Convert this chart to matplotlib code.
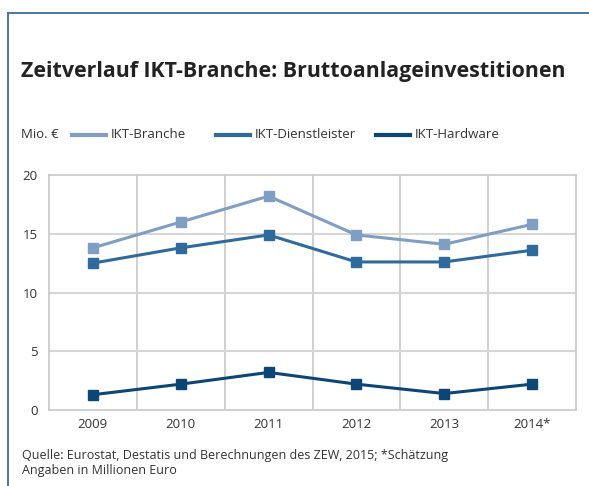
import matplotlib
matplotlib.use("Agg")
import matplotlib.pyplot as plt
from matplotlib.lines import Line2D

years = ["2009", "2010", "2011", "2012", "2013", "2014*"]
ikt_branche = [13.8, 16.0, 18.2, 14.9, 14.1, 15.8]
ikt_dienst = [12.5, 13.8, 14.9, 12.6, 12.6, 13.6]
ikt_hardware = [1.3, 2.2, 3.2, 2.2, 1.4, 2.2]
series_names = ["IKT-Branche", "IKT-Dienstleister", "IKT-Hardware"]
colors = ["#7f9ec4", "#2f6a9c", "#0c4677"]

W, H = 589, 486
plt.rcParams['font.family'] = ['Open Sans', 'DejaVu Sans']
fig = plt.figure(figsize=(W / 100, H / 100), dpi=100)

def fx(px):
    return px / W

def fy(py):
    return 1 - py / H

# frame lines
fig.add_artist(Line2D([fx(8), fx(8)], [fy(13), 0], color="#3d6e98", lw=1.3))
fig.add_artist(Line2D([fx(8), 1], [fy(13), fy(13)], color="#3d6e98", lw=1.3))

fig.text(fx(21), fy(71), "Zeitverlauf IKT-Branche: Bruttoanlageinvestitionen",
         fontsize=15.4, fontweight="bold", color="#222222", va="center", ha="left")

# legend
fig.text(fx(21), fy(135), "Mio. €", fontsize=9.5, color="#333333", va="center")
leg_x = [72, 216, 376]
for name, c, lx in zip(series_names, colors, leg_x):
    fig.add_artist(Line2D([fx(lx), fx(lx + 34)], [fy(135), fy(135)], color=c, lw=3))
    fig.text(fx(lx + 39), fy(135), name, fontsize=9.5, color="#333333", va="center")

ax = fig.add_axes([fx(49), fy(410), fx(576) - fx(49), fy(175) - fy(410)])
x = list(range(len(years)))
for vals, c in zip([ikt_branche, ikt_dienst, ikt_hardware], colors):
    ax.plot(x, vals, color=c, lw=2.2, marker="s", markersize=6.8, zorder=3)

ax.set_xlim(-0.5, len(years) - 0.5)
ax.set_ylim(0, 20)
ax.set_yticks([0, 5, 10, 15, 20])
ax.set_xticks(x)
ax.set_xticklabels(years)
for b in [i + 0.5 for i in range(len(years) - 1)]:
    ax.axvline(b, color="#c8c8c8", lw=1.2, zorder=1)
for yv in [5, 10, 15]:
    ax.axhline(yv, color="#d6d6d6", lw=1.5, zorder=1)
for s in ax.spines.values():
    s.set_color("#c8c8c8")
    s.set_linewidth(1.2)
ax.tick_params(length=0, labelsize=9.5, colors="#333333", pad=6)
ax.tick_params(axis="y", pad=8)

fig.text(fx(22), fy(455), "Quelle: Eurostat, Destatis und Berechnungen des ZEW, 2015; *Schätzung",
         fontsize=9, color="#333333", va="center")
fig.text(fx(22), fy(470), "Angaben in Millionen Euro", fontsize=9, color="#333333", va="center")

fig.savefig("out.png", dpi=100)
